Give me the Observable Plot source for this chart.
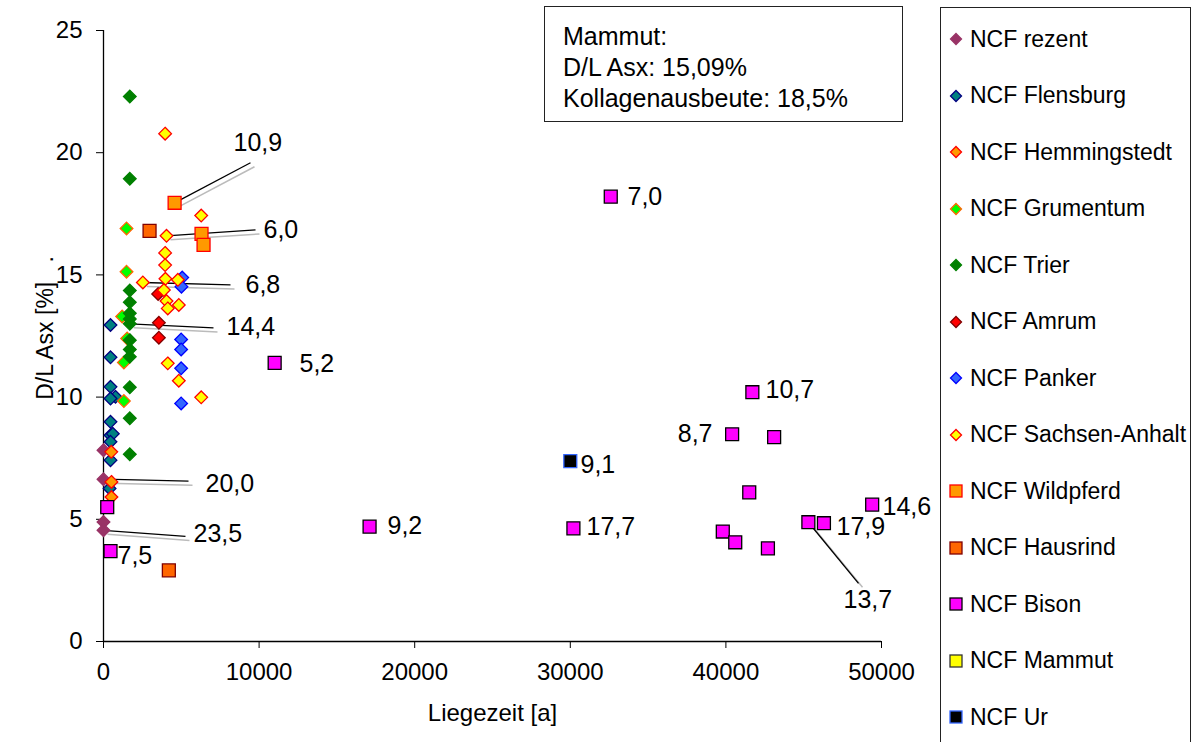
<!DOCTYPE html>
<html>
<head>
<meta charset="utf-8">
<script src="https://cdn.jsdelivr.net/npm/d3@7"></script>
<script src="https://cdn.jsdelivr.net/npm/@observablehq/plot@0.6"></script>
<style>
  html, body { margin: 0; padding: 0; background: #fff; }
  #wrap { position: relative; width: 1196px; height: 742px; overflow: hidden; font-family: "Liberation Sans", Arial, sans-serif; }
  #legend { position: absolute; left: 940px; top: 7px; width: 251px; height: 760px; border: 1.5px solid #222; box-sizing: border-box; }
  .lg { position: absolute; left: 8px; height: 30px; display: flex; align-items: center; font-size: 23px; color: #000; white-space: nowrap; }
  .lg svg { margin-right: 7px; }
  #note { position: absolute; left: 544px; top: 6px; width: 359px; height: 116px; border: 1.5px solid #222; box-sizing: border-box; font-size: 25px; line-height: 31px; padding: 14px 0 0 18px; color: #000; }
</style>
</head>
<body>
<div id="wrap">
  <div id="chart"></div>
  <div id="note">Mammut:<br>D/L Asx: 15,09%<br>Kollagenausbeute: 18,5%</div>
  <div id="legend"></div>
</div>
<script>
// ---- Data (Liegezeit [a], D/L Asx [%]) ----
const rezent = [[0,7.83],[0,6.64],[0,4.89],[0,4.55]];
const flensburg = [[450,12.95],[450,11.63],[450,10.42],[770,10.01],[450,9.94],[450,8.99],[450,8.44],[600,8.5],[450,8.17],[450,7.42],[390,6.26]];
const hemmingstedt = [[500,7.76],[510,6.53],[510,5.91]];
const grumentum = [[1480,16.9],[1480,15.13],[1200,13.3],[1520,12.4],[1310,11.42],[1310,9.84]];
const trier = [[1690,22.3],[1690,18.93],[1690,14.36],[1690,13.88],[1690,13.43],[1690,13.2],[1690,13.0],[1690,12.33],[1690,11.95],[1690,11.65],[1690,10.4],[1690,9.13],[1690,7.66]];
const amrum = [[3510,14.22],[3560,13.04],[3560,12.43]];
const panker = [[5060,14.89],[5010,14.52],[4990,12.36],[4990,11.95],[4990,11.18],[4990,9.74]];
const sachsenAnhalt = [[3960,20.78],[6280,17.43],[4050,16.6],[3960,15.9],[3960,15.4],[2530,14.69],[3980,14.84],[4780,14.8],[3880,14.38],[4050,13.93],[4130,13.63],[4840,13.77],[4130,11.38],[4840,10.67],[6280,9.99]];
const wildpferd = [[4570,17.95],[6300,16.68],[6430,16.23]];
const hausrind = [[2960,16.8],[4200,2.91]];
const bison = [[11000,11.4],[32600,18.2],[17100,4.7],[30200,4.63],[41700,10.2],[40400,8.48],[43100,8.36],[41500,6.1],[39800,4.5],[40600,4.06],[42700,3.81],[45300,4.88],[46300,4.84],[49400,5.6],[240,5.5],[450,3.7]];
const mammut = [];
const ur = [[30000,7.38]];

const seriesNames = ["NCF rezent","NCF Flensburg","NCF Hemmingstedt","NCF Grumentum","NCF Trier","NCF Amrum","NCF Panker","NCF Sachsen-Anhalt","NCF Wildpferd","NCF Hausrind","NCF Bison","NCF Mammut","NCF Ur"];
const seriesData = [rezent, flensburg, hemmingstedt, grumentum, trier, amrum, panker, sachsenAnhalt, wildpferd, hausrind, bison, mammut, ur];

// Point annotations (collagen yield labels)
const labelTexts = ["10,9","6,0","6,8","14,4","20,0","23,5","13,7","5,2","7,0","9,2","17,7","9,1","10,7","8,7","17,9","14,6","7,5"];
const labelX = [8355,10283,9126,7905,6555,5784,47558,12596,33676,18252,31041,30656,42545,39139,47108,50064,900];
const labelY = [20.41,16.84,14.59,12.87,6.43,4.39,1.68,11.35,18.2,4.71,4.67,7.21,10.29,8.48,4.67,5.49,3.48];
const labelLeftOfPoint = ["8,7"];
// Leader lines: from data point to label
const leaderFromX = [4570,4050,2530,1690,0,0,45300];
const leaderFromY = [17.95,16.6,14.69,13.0,6.64,4.55,4.88];
const leaderToX = [9447,9769,8162,7069,5463,5270,48522];
const leaderToY = [19.59,16.84,14.59,12.83,6.56,4.30,2.38];

const xTicks = [0,10000,20000,30000,40000,50000];
const yTicks = [0,5,10,15,20,25];
const xTitle = "Liegezeit [a]";
const yTitle = "D/L Asx [%]\u00a0\u00a0\u00a0.";

// ---- Styles ----
const styles = [
  {symbol:"diamond2", fill:"#993366", stroke:"#993366"},
  {symbol:"diamond2", fill:"#008080", stroke:"#000080"},
  {symbol:"diamond2", fill:"#FF9900", stroke:"#FF0000"},
  {symbol:"diamond2", fill:"#00FF00", stroke:"#FF6600"},
  {symbol:"diamond2", fill:"#008000", stroke:"#008000"},
  {symbol:"diamond2", fill:"#FF0000", stroke:"#800000"},
  {symbol:"diamond2", fill:"#3366FF", stroke:"#0000FF"},
  {symbol:"diamond2", fill:"#FFFF00", stroke:"#FF0000"},
  {symbol:"square", fill:"#FF9900", stroke:"#FF0000"},
  {symbol:"square", fill:"#FF6600", stroke:"#800000"},
  {symbol:"square", fill:"#FF00FF", stroke:"#000000"},
  {symbol:"square", fill:"#FFFF00", stroke:"#333333"},
  {symbol:"square", fill:"#000000", stroke:"#3366FF"}
];

const rows = [];
seriesData.forEach((arr, i) => arr.forEach(([x, y]) => rows.push({series: seriesNames[i], i, x, y})));
const labels = labelTexts.map((t, k) => ({t, x: labelX[k], y: labelY[k]}));
const labelsRight = labels.filter(d => !labelLeftOfPoint.includes(d.t));
const labelsLeft = labels.filter(d => labelLeftOfPoint.includes(d.t));
const leaders = leaderFromX.map((x1, k) => ({x1, y1: leaderFromY[k], x2: leaderToX[k], y2: leaderToY[k]}));

const dotMarks = styles.map((s, i) => Plot.dot(rows.filter(d => d.i === i), {
  x: "x", y: "y", symbol: () => s.symbol, fill: s.fill, stroke: s.stroke,
  strokeWidth: 1.3, r: s.symbol === "square" ? 7.3 : 5.7
}));

const plot = Plot.plot({
  width: 1196, height: 742,
  marginLeft: 103, marginRight: 315, marginTop: 30, marginBottom: 101,
  style: {fontFamily: "Liberation Sans, Arial, sans-serif", fontSize: "24px", color: "#000", background: "#fff"},
  symbol: {type: "identity"},
  x: {domain: [0, 50000]},
  y: {domain: [0, 25]},
  marks: [
    Plot.axisX({ticks: xTicks, tickFormat: d3.format("d"), tickSize: 7, tickPadding: 14, label: null, fontSize: 24}),
    Plot.axisY({ticks: yTicks, tickSize: 7, tickPadding: 14, label: null, fontSize: 24}),
    Plot.text([xTitle], {frameAnchor: "bottom", text: d => d, textAnchor: "middle", dy: 79, fontSize: 24, fill: "#000"}),
    Plot.text([yTitle], {frameAnchor: "left", text: d => d, textAnchor: "middle", dx: -58, dy: -8, rotate: -90, fontSize: 23, fill: "#000"}),
    Plot.ruleX([0], {stroke: "#000", strokeWidth: 1.3}),
    Plot.ruleY([0], {stroke: "#000", strokeWidth: 1.3}),
    Plot.link(leaders, {x1: "x1", y1: "y1", x2: "x2", y2: "y2", stroke: "#bbb", strokeWidth: 1.5, dx: 4, dy: 4}),
    Plot.link(leaders, {x1: "x1", y1: "y1", x2: "x2", y2: "y2", stroke: "#000", strokeWidth: 1.3}),
    ...dotMarks,
    Plot.text(labelsRight, {x: "x", y: "y", text: "t", textAnchor: "start", fontSize: 25, fill: "#000"}),
    Plot.text(labelsLeft, {x: "x", y: "y", text: "t", textAnchor: "end", fontSize: 25, fill: "#000"})
  ]
});
document.getElementById("chart").appendChild(plot);

// ---- Legend ----
const legend = document.getElementById("legend");
seriesNames.forEach((name, i) => {
  const s = styles[i];
  const row = document.createElement("div");
  row.className = "lg";
  row.style.top = (16 + i * 56.5) + "px";
  const shape = s.symbol === "square"
    ? `<rect x="1" y="1" width="12" height="12" fill="${s.fill}" stroke="${s.stroke}" stroke-width="1.3"/>`
    : `<path d="M7,1.5 L12.5,7 L7,12.5 L1.5,7 Z" fill="${s.fill}" stroke="${s.stroke}" stroke-width="1.3"/>`;
  row.innerHTML = `<svg width="14" height="14">${shape}</svg><span>${name}</span>`;
  legend.appendChild(row);
});
</script>
</body>
</html>
